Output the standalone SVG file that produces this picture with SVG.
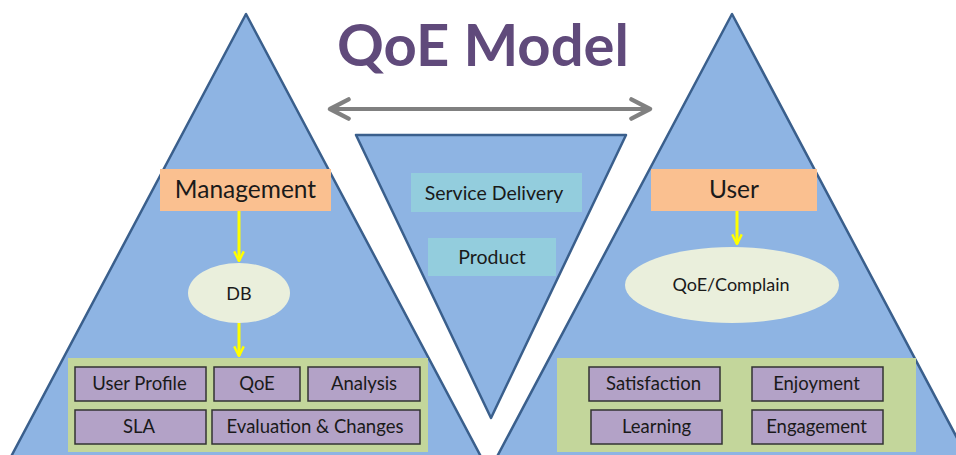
<svg xmlns="http://www.w3.org/2000/svg" width="956" height="455" viewBox="0 0 956 455">
<defs>
<style>
.tri{fill:#8EB4E3;stroke:#3A5F8C;stroke-width:2.5;stroke-linejoin:round}
.hdr{fill:#FAC090}
.blue{fill:#93CDDD}
.ell{fill:#EAEFDC}
.grp{fill:#C3D69B}
.item{fill:#B3A2C7;stroke:#333;stroke-width:1.5}
.t{font-family:Lato,"Open Sans","Liberation Sans",sans-serif;fill:#1a1a1a;text-anchor:middle}
.b{font-size:18.5px}
.yl{stroke:#FFFF00;stroke-width:3;fill:none}
</style>
<marker id="ya" viewBox="0 0 10 10" refX="9" refY="5" markerWidth="4" markerHeight="4" orient="auto" markerUnits="strokeWidth">
<path d="M1,1 L9,5 L1,9" fill="none" stroke="#FFFF00" stroke-width="2"/>
</marker>
<marker id="ga" viewBox="0 0 12 12" refX="10.5" refY="6" markerWidth="6" markerHeight="6" orient="auto-start-reverse" markerUnits="strokeWidth">
<path d="M1.2,1.2 L10.5,6 L1.2,10.8" fill="none" stroke="#808080" stroke-width="2.2" stroke-linecap="round" stroke-linejoin="round"/>
</marker>
</defs>
<rect width="956" height="455" fill="#fff"/>
<g id="left-triangle"><polygon class="tri" points="246,14 5,468 487,468"/></g>
<g id="right-triangle"><polygon class="tri" points="732,14 491,468 973,468"/></g>
<g id="middle-triangle"><polygon class="tri" points="356,135 626,135 491,418"/></g>
<g id="title"><text x="483" y="66" class="t" style="font-size:58px;font-weight:bold;fill:#604A7B">QoE Model</text></g>
<g id="connectors">
<line x1="330" y1="109" x2="650" y2="109" stroke="#808080" stroke-width="4" marker-start="url(#ga)" marker-end="url(#ga)"/>
<line class="yl" x1="239" y1="211" x2="239" y2="261" marker-end="url(#ya)"/>
<line class="yl" x1="239" y1="323" x2="239" y2="356" marker-end="url(#ya)"/>
<line class="yl" x1="737" y1="211" x2="737" y2="244" marker-end="url(#ya)"/>
</g>
<g id="management"><rect class="hdr" x="160" y="169" width="171" height="42"/><text class="t" x="245.5" y="198" style="font-size:24.5px">Management</text></g>
<g id="user"><rect class="hdr" x="651" y="169" width="166" height="42"/><text class="t" x="734" y="198" style="font-size:24.5px">User</text></g>
<g id="service-delivery"><rect class="blue" x="411" y="173" width="171" height="39"/><text class="t" x="494" y="200" style="font-size:19.5px">Service Delivery</text></g>
<g id="product"><rect class="blue" x="428" y="238" width="128" height="38"/><text class="t" x="492" y="264" style="font-size:19.5px">Product</text></g>
<g id="db"><ellipse class="ell" cx="239" cy="293" rx="51" ry="30"/><text class="t" x="239" y="300" style="font-size:18px">DB</text></g>
<g id="qoe-complain"><ellipse class="ell" cx="732" cy="285" rx="107" ry="38"/><text class="t" x="731" y="291" style="font-size:18px">QoE/Complain</text></g>
<g id="management-group"><rect class="grp" x="68" y="358" width="360" height="94"/></g>
<g id="user-profile"><rect class="item" x="75" y="367" width="131" height="34"/><text class="t b" x="139.5" y="390">User Profile</text></g>
<g id="qoe"><rect class="item" x="214" y="367" width="86" height="34"/><text class="t b" x="257" y="390">QoE</text></g>
<g id="analysis"><rect class="item" x="308" y="367" width="112" height="34"/><text class="t b" x="364" y="390">Analysis</text></g>
<g id="sla"><rect class="item" x="75" y="410" width="131" height="34"/><text class="t b" x="139" y="433">SLA</text></g>
<g id="evaluation"><rect class="item" x="212" y="410" width="208" height="34"/><text class="t b" x="315" y="433">Evaluation &amp; Changes</text></g>
<g id="user-group"><rect class="grp" x="557" y="358" width="359" height="94"/></g>
<g id="satisfaction"><rect class="item" x="589" y="367" width="131" height="34"/><text class="t b" x="653.5" y="390">Satisfaction</text></g>
<g id="enjoyment"><rect class="item" x="752" y="367" width="131" height="34"/><text class="t b" x="816.5" y="390">Enjoyment</text></g>
<g id="learning"><rect class="item" x="591" y="410" width="131" height="34"/><text class="t b" x="656.5" y="433">Learning</text></g>
<g id="engagement"><rect class="item" x="752" y="410" width="131" height="34"/><text class="t b" x="816.5" y="433">Engagement</text></g>
</svg>
